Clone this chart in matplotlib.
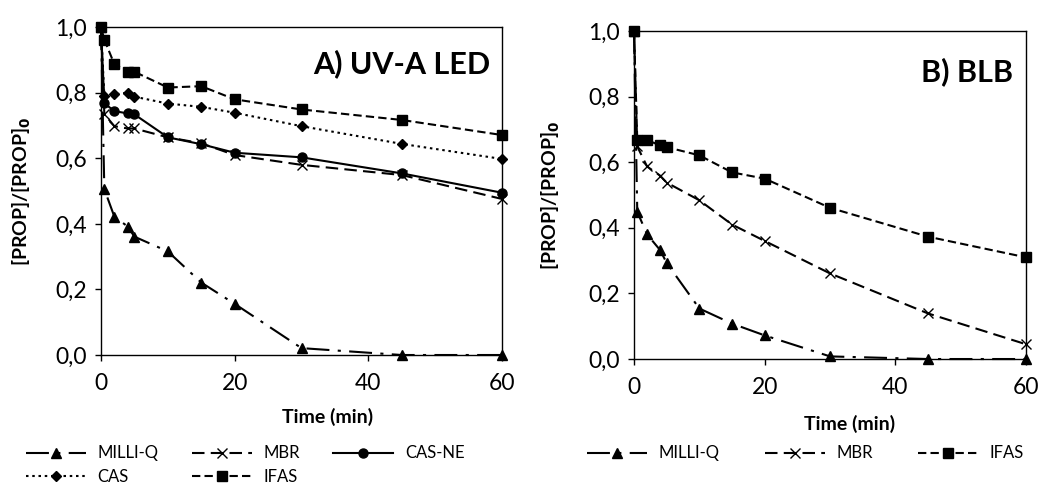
import matplotlib
matplotlib.use('Agg')
import matplotlib.pyplot as plt
from matplotlib.ticker import FuncFormatter

plt.rcParams['font.family'] = ['Lato', 'DejaVu Sans']

# ── Data ─────────────────────────────────────────────────────────────────────
time_min = [0, 0.5, 2, 4, 5, 10, 15, 20, 30, 45, 60]

# A) UV-A LED
a_milliq = [1.0, 0.506, 0.422, 0.392, 0.361, 0.316, 0.221, 0.156, 0.021, 0.0, 0.0]
a_mbr    = [1.0, 0.735, 0.698, 0.691, 0.691, 0.664, 0.646, 0.610, 0.580, 0.549, 0.476]
a_casne  = [1.0, 0.768, 0.744, 0.737, 0.734, 0.664, 0.643, 0.617, 0.603, 0.554, 0.495]
a_cas    = [1.0, 0.791, 0.795, 0.800, 0.788, 0.767, 0.757, 0.739, 0.698, 0.644, 0.598]
a_ifas   = [1.0, 0.962, 0.887, 0.864, 0.864, 0.816, 0.820, 0.780, 0.749, 0.717, 0.671]

# B) BLB
b_milliq = [1.0, 0.449, 0.380, 0.332, 0.293, 0.154, 0.108, 0.072, 0.008, 0.0, 0.0]
b_mbr    = [1.0, 0.648, 0.587, 0.559, 0.538, 0.484, 0.410, 0.360, 0.261, 0.139, 0.045]
b_ifas   = [1.0, 0.668, 0.668, 0.651, 0.646, 0.621, 0.569, 0.550, 0.461, 0.373, 0.310]

styles = {
    'MILLI-Q': dict(marker='^', ms=6.5, dashes=(11, 4, 1.5, 4)),
    'MBR':     dict(marker='x', ms=7, mew=1.0, dashes=(6, 3)),
    'CAS-NE':  dict(marker='o', ms=6.5, dashes=()),
    'CAS':     dict(marker='D', ms=5, dashes=(1.2, 1.8)),
    'IFAS':    dict(marker='s', ms=7, dashes=(4, 2)),
}


def draw(ax, series):
    for name, vals in series:
        st = dict(styles[name])
        dashes = st.pop('dashes')
        line, = ax.plot(time_min, vals, color='black', lw=1.5, label=name,
                        clip_on=False, zorder=3, **st)
        if dashes:
            line.set_dashes(dashes)
        else:
            line.set_linestyle('-')
    ax.set_xlim(0, 60)
    ax.set_ylim(0, 1.0)
    ax.set_xticks([0, 20, 40, 60])
    ax.set_yticks([0, 0.2, 0.4, 0.6, 0.8, 1.0])
    ax.yaxis.set_major_formatter(FuncFormatter(lambda v, p: f'{v:.1f}'.replace('.', ',')))
    ax.tick_params(direction='out', length=4, width=1, labelsize=16.5,
                   colors='black', pad=6)
    ax.tick_params(axis='x', pad=9)
    for sp in ax.spines.values():
        sp.set_linewidth(1.0)
        sp.set_color('black')
    ax.set_xlabel('Time (min)', fontsize=14, fontweight='bold')
    ax.set_ylabel(r'[PROP]/[PROP]$_\mathbf{0}$', fontsize=14, fontweight='bold')


fig = plt.figure(figsize=(10.39, 4.9), dpi=100)

ax1 = fig.add_axes([0.0972, 0.2755, 0.386, 0.669])
draw(ax1, [('MILLI-Q', a_milliq), ('MBR', a_mbr), ('CAS-NE', a_casne),
           ('CAS', a_cas), ('IFAS', a_ifas)])
ax1.yaxis.set_label_coords(-0.17, 0.5)
ax1.xaxis.set_label_coords(0.565, -0.16)
ax1.text(0.97, 0.89, 'A) UV-A LED', transform=ax1.transAxes, ha='right',
         va='center', fontsize=22, fontweight='bold')

ax2 = fig.add_axes([0.6102, 0.2673, 0.3773, 0.6694])
draw(ax2, [('MILLI-Q', b_milliq), ('MBR', b_mbr), ('IFAS', b_ifas)])
ax2.yaxis.set_label_coords(-0.184, 0.5)
ax2.xaxis.set_label_coords(0.55, -0.17)
ax2.text(0.967, 0.875, 'B) BLB', transform=ax2.transAxes, ha='right',
         va='center', fontsize=22, fontweight='bold')

# legends below each panel
h, l = ax1.get_legend_handles_labels()
order = [0, 3, 1, 4, 2]
fig.legend([h[i] for i in order], [l[i] for i in order], ncol=3,
           loc='upper left', bbox_to_anchor=(0.017, 0.108), frameon=False,
           fontsize=12, handlelength=3.6, columnspacing=2.0,
           handletextpad=0.7, labelspacing=0.45, borderpad=0)

h, l = ax2.get_legend_handles_labels()
fig.legend(h, l, ncol=3, loc='upper left', bbox_to_anchor=(0.557, 0.108),
           frameon=False, fontsize=12, handlelength=3.6, columnspacing=2.7,
           handletextpad=0.7, borderpad=0)

plt.savefig('out.png', dpi=100)
